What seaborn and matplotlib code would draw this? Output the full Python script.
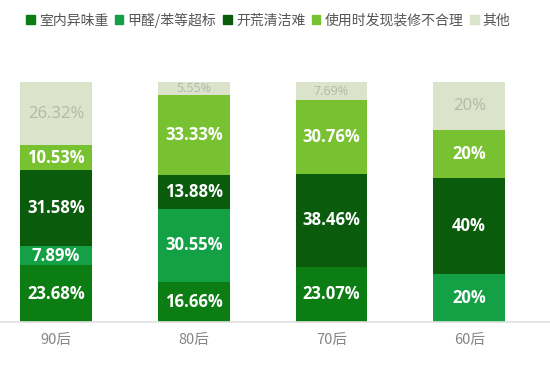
import matplotlib
matplotlib.use("Agg")
import matplotlib.pyplot as plt
import matplotlib.patches as mpatches
import seaborn as sns
import numpy as np
import pandas as pd

# data (percent)
groups = ["90后", "80后", "70后", "60后"]
series = ["室内异味重", "甲醛/苯等超标", "开荒清洁难", "使用时发现装修不合理", "其他"]
odor = [23.68, 16.66, 23.07, 0]
formaldehyde = [7.89, 30.55, 0, 20]
cleaning = [31.58, 13.88, 38.46, 40]
design = [10.53, 33.33, 30.76, 20]
other = [26.32, 5.55, 7.69, 20]
labels = [
    ["23.68%", "16.66%", "23.07%", ""],
    ["7.89%", "30.55%", "", "20%"],
    ["31.58%", "13.88%", "38.46%", "40%"],
    ["10.53%", "33.33%", "30.76%", "20%"],
    ["26.32%", "5.55%", "7.69%", "20%"],
]
colors = ["#0b7d12", "#14a044", "#0a5c0c", "#78c232", "#dbe3cb"]
text_colors = ["white", "white", "white", "white", "#b3b8aa"]

sns.set_style("white")
plt.rcParams['font.family'] = ['Noto Sans CJK SC', 'DejaVu Sans']

fig = plt.figure(figsize=(5.5, 3.67), dpi=100)
ax = fig.add_axes([0, 0.1226, 1, 0.654])

values = [odor, formaldehyde, cleaning, design, other]
bottom = np.zeros(len(groups))
for i, vals in enumerate(values):
    df = pd.DataFrame({"group": groups, "value": vals})
    sns.barplot(data=df, x="group", y="value", color=colors[i], width=0.52,
                bottom=bottom, ax=ax, saturation=1, linewidth=0, errorbar=None)
    for j, v in enumerate(vals):
        if v > 0 and labels[i][j]:
            size = 9 if (i == 4 and v < 9) else 12
            weight = "normal" if i == 4 else "bold"
            ax.text(j, bottom[j] + v / 2, labels[i][j], ha="center", va="center",
                    color=text_colors[i], fontsize=size, fontweight=weight,
                    family=["Open Sans", "DejaVu Sans"])
    bottom += np.array(vals)

ax.set_xlim(-0.407, 3.587)
ax.set_ylim(0, 100)
ax.set_xlabel("")
ax.set_ylabel("")
ax.set_yticks([])
ax.tick_params(axis="x", length=0, labelsize=10.5, labelcolor="#858585", pad=8)
for s in ["top", "left", "right"]:
    ax.spines[s].set_visible(False)
ax.spines["bottom"].set_color("#e0e0e0")
ax.spines["bottom"].set_linewidth(1.2)

handles = [mpatches.Patch(color=c, label=s) for c, s in zip(colors, series)]
fig.legend(handles=handles, loc="upper left", bbox_to_anchor=(0.025, 1.0), ncol=5,
           frameon=False, fontsize=10, handlelength=0.6, handleheight=0.6,
           handletextpad=0.3, columnspacing=0.5, labelcolor="#555555")

fig.savefig("out.png", dpi=100)
